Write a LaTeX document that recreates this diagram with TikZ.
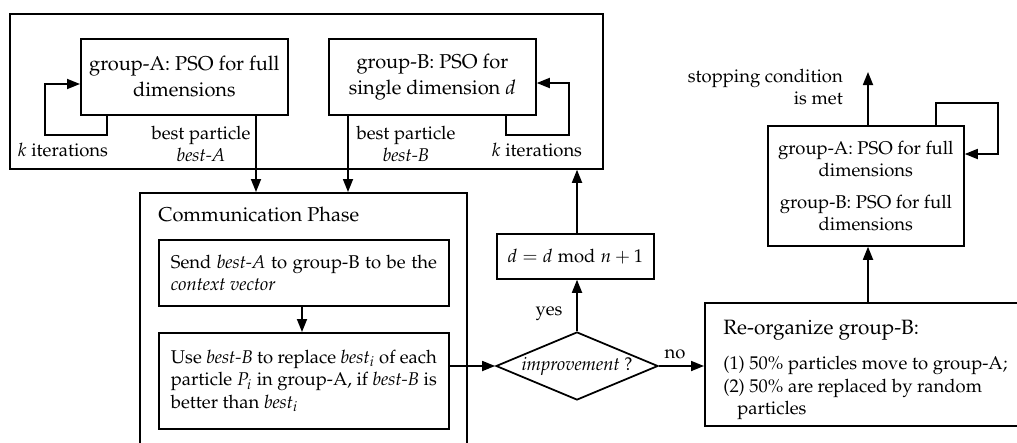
\documentclass[tikz,border=0pt]{standalone}
\usepackage[T1]{fontenc}
\usepackage{mathpazo}
\usetikzlibrary{arrows.meta,shapes.geometric}

\tikzset{
  box/.style={draw,line width=1pt,inner sep=0pt,anchor=north west},
  big/.style={font=\fontsize{11.4}{14.8}\selectfont},
  small/.style={font=\fontsize{10.5}{12.8}\selectfont},
  arr/.style={line width=1pt,-{Triangle[length=2.6mm,width=2mm]}},
}

\begin{document}
\begin{tikzpicture}[x=0.2mm,y=-0.2mm]
  \clip (0,0) rectangle (1017,442);
  \node[box,minimum width=118.6mm,minimum height=31mm] (outer) at (9,13) {};
  \node[box,big,align=center,minimum width=41.4mm,minimum height=15.2mm] (grpA) at (80,38) {group-A: PSO for full\\dimensions};
  \node[box,big,align=center,minimum width=41.4mm,minimum height=15.2mm] (grpB) at (328,38) {group-B: PSO for\\single dimension $d$};
  \node[small] (itA) at (63,150) {$k$ iterations};
  \node[small,align=center] (bestA) at (201,144) {best particle\\\textit{best-A}};
  \node[small,align=center] (bestB) at (406,144) {best particle\\\textit{best-B}};
  \node[small] (itB) at (537,150) {$k$ iterations};

  \draw[arr] (grpA.south -| 107,0) |- (45,135) |- (grpA.west |- 0,84);
  \draw[arr] (grpB.south -| 506,0) |- (569,135) |- (grpB.east |- 0,83);

  \node[box,minimum width=65.4mm,minimum height=55.6mm] (comm) at (139,192) {};
  \node[big,anchor=west,inner sep=0pt] (commT) at (158,214) {Communication Phase};
  \node[box,small,text width=53.2mm,align=justify,minimum width=58mm,minimum height=13.2mm,inner xsep=2.4mm] (send) at (158,239)
    {Send \textit{best-A} to group-B to be the\linebreak \textit{context vector}};
  \node[box,small,text width=53.2mm,align=justify,minimum width=58mm,minimum height=19.2mm,inner xsep=2.4mm] (use) at (158,332)
    {Use \textit{best-B} to replace \textit{best}$_i$ of each\linebreak particle $P_i$ in group-A, if \textit{best-B} is\linebreak better than \textit{best}$_i$};

  \draw[arr] (grpA.south -| 256,0) -- (comm.north -| 256,0);
  \draw[arr] (grpB.south -| 348,0) -- (comm.north -| 348,0);
  \draw[arr] (send.south -| 302,0) -- (use.north -| 302,0);

  \node[draw,diamond,line width=1pt,small,inner sep=0pt,aspect=2.4,minimum width=32.4mm,minimum height=13.6mm] (dec) at (577,366) {\textit{improvement} ?};
  \node[box,small,minimum width=31.4mm,minimum height=9mm] (dbox) at (496,233) {$d = d \bmod n + 1$};
  \node[small] (yes) at (549,314) {yes};
  \node[small] (no) at (675,354) {no};

  \draw[arr] (use.east |- dec) -- (dec.west);
  \draw[arr] (dec.north) -- (dbox.south -| dec.north);
  \draw[arr] (dbox.north -| dec.north) -- (outer.south -| dec.north);

  \node[box,minimum width=67.2mm,minimum height=24.6mm] (reorg) at (704,302) {};
  \node[anchor=north west,inner sep=0pt,align=left,small] (reorgT) at (723,320)
    {{\fontsize{11.8}{14}\selectfont Re-organize group-B:}\\[7pt]
     (1) 50\% particles move to group-A;\\
     (2) 50\% are replaced by random\\
     \hspace*{2.8mm}particles};
  \draw[arr] (dec.east) -- (reorg.west |- dec.east);

  \node[box,small,align=center,minimum width=39.2mm,minimum height=24mm] (final) at (767,125)
    {group-A: PSO for full\\dimensions\\[5pt]group-B: PSO for full\\dimensions};
  \draw[arr] (reorg.north -| 868,0) -- (final.south -| 868,0);
  \node[small,align=right,anchor=east] (stopT) at (849,87) {stopping condition\\is met};
  \coordinate (stop) at (868,72);
  \draw[arr] (final.north -| stop) -- (stop);
  \draw[arr] (final.north -| 936,0) -- (936,103) -- (998,103) |- (final.east |- 0,154);
\end{tikzpicture}
\end{document}
